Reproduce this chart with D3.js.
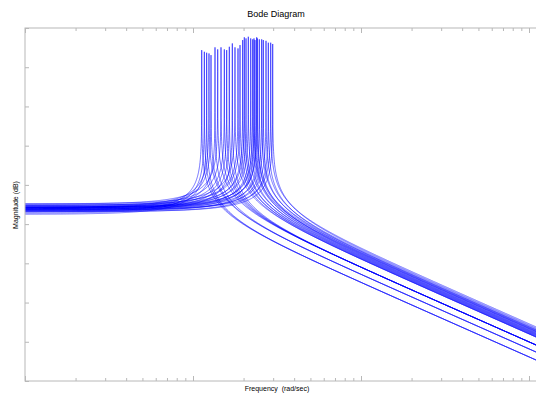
<!DOCTYPE html>
<html><head><meta charset="utf-8">
<script src="https://cdn.jsdelivr.net/npm/d3@7"></script>
<style>body{margin:0;background:#fff} svg{display:block} text{font-family:"Liberation Sans",Arial,sans-serif}</style>
</head><body><svg id="c" width="536" height="394"></svg>
<script>
// natural (resonance) frequency of each model in the array, rad/sec
const naturalFreq = [1.127,1.168,1.206,1.245,1.280,1.352,1.403,1.468,1.536,1.587,1.645,1.714,1.778,1.853,1.905,1.976,
  2.020,2.068,2.134,2.206,2.267,2.307,2.339,2.394,2.414,2.481,2.564,2.621,2.720,2.807,2.901,2.982];
// low-frequency gain, dB
const dcGainDb = [-59.1,-59.7,-60.3,-56.5,-57.0,-58.0,-54.8,-55.6,-56.4,-57.0,-57.6,-58.3,
  -54.6,-55.4,-55.3,-56.4,-55.8,-56.7,-56.2,-57.3,-56.7,-56.4,-57.8,-57.1,-56.7,-58.3,-57.2,-58.2,-57.7,-58.8,-57.7,-58.8];
// drawn resonance peak, dB
const peakGainDb = [28.1,27.2,26.7,26.3,25.4,29.6,28.5,29.6,28.5,28.1,29.9,31.7,29.6,29.0,30.8,33.5,
  35.0,34.4,35.3,34.4,33.9,34.4,33.5,35.0,34.4,33.9,33.9,33.5,33.1,32.1,32.1,31.4];
const freqDomain = [0.1, Math.pow(10, 2.1)];
const magDomain = [-150, 40];

const svg = d3.select("#c");
const L = 25, T = 28, B = 381, R = 25 + 168 * 3.1;
const x = d3.scaleLog().domain(freqDomain).range([L, R]);
const y = d3.scaleLinear().domain(magDomain).range([B, T]);
const axisColor = "#b8b8b8";

svg.append("defs").append("clipPath").attr("id", "clip")
  .append("rect").attr("x", L).attr("y", T).attr("width", R - L).attr("height", B - T);

// frequency grid
const N = 3000;
const lo = Math.log10(freqDomain[0]), hi = Math.log10(freqDomain[1]);
const baseGrid = d3.range(N + 1).map(j => Math.pow(10, lo + (hi - lo) * j / N));

const line = d3.line().x(d => x(d[0])).y(d => y(d[1]));
const g = svg.append("g").attr("clip-path", "url(#clip)");
naturalFreq.forEach((wn, i) => {
  const dc = dcGainDb[i];
  const zeta = 0.5 * Math.pow(10, (dc - peakGainDb[i]) / 20);
  const grid = baseGrid.concat([wn]).sort((a, b) => a - b);
  const pts = grid.map(w => {
    const r = w / wn;
    const re = 1 - r * r, im = 2 * zeta * r;
    return [w, dc - 10 * Math.log10(re * re + im * im)];
  });
  g.append("path").attr("d", line(pts)).attr("fill", "none")
    .attr("stroke", "#0000ff").attr("stroke-width", 0.55);
});

// axes
const decades = [0.1, 1, 10, 100];
const minor = [];
decades.forEach(d => { for (let k = 2; k <= 9; k++) if (d * k <= freqDomain[1]) minor.push(d * k); });
function styleAxis(sel) { sel.select(".domain").remove(); sel.selectAll("line").attr("stroke", axisColor); sel.selectAll("text").remove(); }
svg.append("g").attr("transform", `translate(0,${B})`).call(d3.axisBottom(x).tickValues(minor).tickSize(-3).tickFormat("")).call(styleAxis);
svg.append("g").attr("transform", `translate(0,${B})`).call(d3.axisBottom(x).tickValues(decades).tickSize(-5).tickFormat("")).call(styleAxis);
svg.append("g").attr("transform", `translate(0,${T})`).call(d3.axisTop(x).tickValues(minor).tickSize(-3).tickFormat("")).call(styleAxis);
svg.append("g").attr("transform", `translate(0,${T})`).call(d3.axisTop(x).tickValues(decades).tickSize(-5).tickFormat("")).call(styleAxis);
const yTicks = d3.range(10).map(i => magDomain[0] + i * (magDomain[1] - magDomain[0]) / 9);
svg.append("g").attr("transform", `translate(${L},0)`).call(d3.axisLeft(y).tickValues(yTicks).tickSize(-4).tickFormat("")).call(styleAxis);

svg.append("rect").attr("x", L).attr("y", T).attr("width", R - L).attr("height", B - T)
  .attr("fill", "none").attr("stroke", axisColor).attr("stroke-width", 1);

svg.append("text").attr("x", 276).attr("y", 17).attr("text-anchor", "middle").attr("font-size", 9).attr("fill", "#000").text("Bode Diagram");
svg.append("text").attr("x", 277).attr("y", 391).attr("text-anchor", "middle").attr("font-size", 7).attr("fill", "#000").style("white-space","pre").text("Frequency  (rad/sec)");
svg.append("text").attr("transform", "translate(18,205) rotate(-90)").attr("text-anchor", "middle").attr("font-size", 7).attr("fill", "#000").text("Magnitude (dB)");
</script></body></html>
